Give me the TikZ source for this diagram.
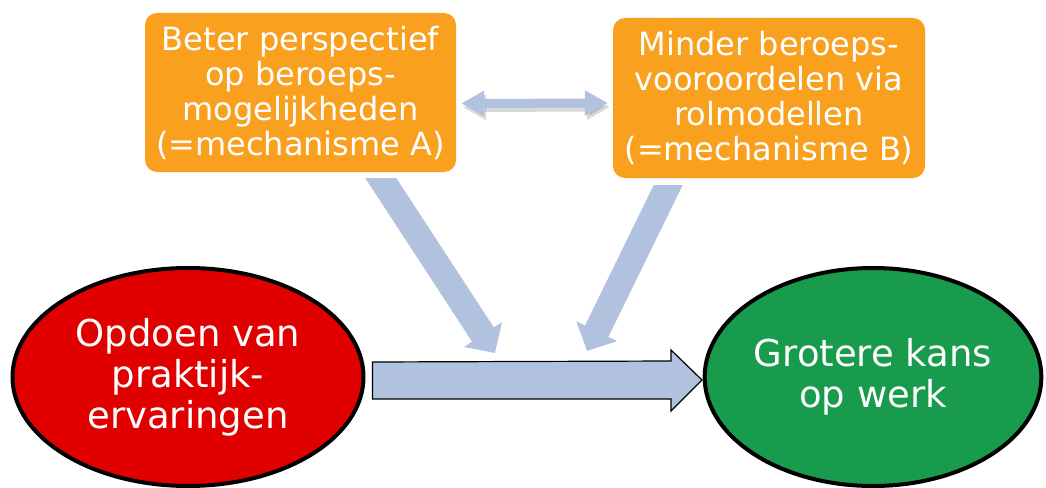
\documentclass[tikz,border=0pt]{standalone}
\usepackage{fontspec}
\setmainfont{DejaVu Sans}
\usetikzlibrary{shapes.geometric,arrows.meta,calc}
\definecolor{boxorange}{RGB}{249,160,30}
\definecolor{redfill}{RGB}{224,0,0}
\definecolor{greenfill}{RGB}{24,155,76}
\definecolor{arrowblue}{RGB}{176,194,222}
\tikzset{
  mechbox/.style={draw=none, fill=boxorange, rounded corners=12pt, text=white, align=center, inner sep=0pt, font=\fontsize{32}{35}\selectfont},
  oval/.style={ellipse, draw=black, line width=4pt, text=white, align=center, inner sep=0pt, font=\fontsize{37}{41}\selectfont},
  blockarrow/.style={line width=26pt, draw=arrowblue, -{Triangle[length=22pt,width=44pt,fill=arrowblue]}},
}
\begin{document}
\begin{tikzpicture}[x=1pt,y=-1pt]
\useasboundingbox (0,0) rectangle (1046,487);
% boxes
\node[mechbox, minimum width=311pt, minimum height=159pt] (A) at (300.5,92.5) {Beter perspectief\\op beroeps-\\mogelijkheden\\(=mechanisme A)};
\node[mechbox, minimum width=312pt, minimum height=160pt] (B) at (769,98) {Minder beroeps-\\vooroordelen via\\rolmodellen\\(=mechanisme B)};
% ellipses
\node[oval, fill=redfill, minimum width=351pt, minimum height=218pt] (R) at (188,377) {Opdoen van\\praktijk-\\ervaringen};
\node[oval, fill=greenfill, minimum width=332pt, minimum height=218pt] (G) at (873,377) {Grotere kans\\op werk};
% double arrow between boxes
\coordinate (dl) at ($(A.east)+(5,11)$);
\coordinate (dr) at ($(B.west)+(-5,5)$);
\draw[line width=9pt, black, opacity=0.15, {Triangle[length=23pt,width=24pt]}-{Triangle[length=23pt,width=24pt]}] ($(dl)+(2,4)$) -- ($(dr)+(2,4)$);
\draw[line width=9pt, arrowblue, {Triangle[length=23pt,width=24pt]}-{Triangle[length=23pt,width=24pt]}] (dl) -- (dr);
% diagonal block arrows
\coordinate (ta) at (369,160);
\coordinate (pa) at (495,353);
\coordinate (tb) at (678,165);
\coordinate (pb) at (587,351);
\begin{scope}
\clip (0,178) rectangle (1046,487);
\draw[blockarrow] (ta) -- (pa);
\end{scope}
\begin{scope}
\clip (0,185) rectangle (1046,487);
\draw[blockarrow] (tb) -- (pb);
\end{scope}
% main arrow
\coordinate (ms) at ($(R.east)+(7,3)$);
\draw[fill=arrowblue, draw=black, line width=1.2pt, line join=miter]
  ($(ms)+(0,-18)$) -- (671,361) -- (671,350) -- (702,380) -- (671,411) -- (671,399) -- ($(ms)+(0,19)$) -- cycle;
\end{tikzpicture}
\end{document}
